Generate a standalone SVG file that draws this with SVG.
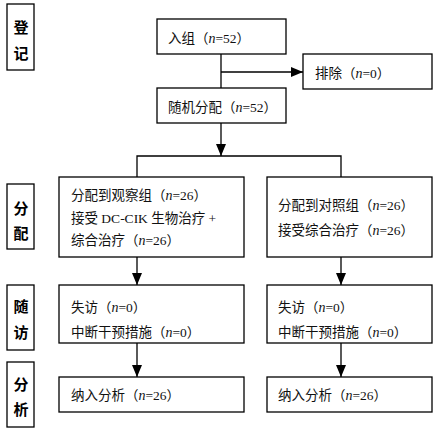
<svg xmlns="http://www.w3.org/2000/svg" width="441" height="432" viewBox="0 0 441 432">
<style>
.box{fill:#fff;stroke:#000;stroke-width:1.3}
.t{font-family:"Liberation Serif","Noto Sans CJK SC",serif;font-size:13.5px;fill:#111;dominant-baseline:central}
.lab{font-family:"Noto Sans CJK SC",sans-serif;font-size:15px;font-weight:bold;fill:#000;text-anchor:middle;dominant-baseline:central}
.ln{fill:none;stroke:#000;stroke-width:1.3}
.n{font-style:italic;font-size:14px}
</style>
<defs>
<marker id="ah" viewBox="0 0 12 10" refX="12" refY="5" markerWidth="12" markerHeight="10" markerUnits="userSpaceOnUse" orient="auto">
<path d="M0,0L12,5L0,10z" fill="#000"/>
</marker>
</defs>
<rect width="441" height="432" fill="#fff"/>
<g id="stage-labels">
<g id="lab-reg"><rect class="box" x="7" y="4" width="27" height="66"/><text class="lab" x="21" y="26">登</text><text class="lab" x="21" y="52">记</text></g>
<g id="lab-alloc"><rect class="box" x="7" y="184" width="27" height="65"/><text class="lab" x="21" y="207">分</text><text class="lab" x="21" y="232">配</text></g>
<g id="lab-follow"><rect class="box" x="7" y="285" width="27" height="65"/><text class="lab" x="21" y="305">随</text><text class="lab" x="21" y="331">访</text></g>
<g id="lab-anal"><rect class="box" x="7" y="362" width="27" height="65"/><text class="lab" x="21" y="383">分</text><text class="lab" x="21" y="408">析</text></g>
</g>
<g id="connectors">
<path class="ln" d="M221,54V88"/>
<path class="ln" d="M221,72H303" marker-end="url(#ah)"/>
<path class="ln" d="M221,123V156" marker-end="url(#ah)"/>
<path class="ln" d="M137,177V156H341V177"/>
<path class="ln" d="M137,257V285" marker-end="url(#ah)"/>
<path class="ln" d="M341,257V285" marker-end="url(#ah)"/>
<path class="ln" d="M137,343V377" marker-end="url(#ah)"/>
<path class="ln" d="M341,343V377" marker-end="url(#ah)"/>
</g>
<g id="enroll"><rect class="box" x="157" y="19" width="129" height="35"/><text class="t" x="168" y="38">入组（<tspan class="n">n</tspan>=52）</text></g>
<g id="exclude"><rect class="box" x="303" y="54" width="129" height="35"/><text class="t" x="315" y="73">排除（<tspan class="n">n</tspan>=0）</text></g>
<g id="random"><rect class="box" x="157" y="88" width="129" height="35"/><text class="t" x="168" y="107">随机分配（<tspan class="n">n</tspan>=52）</text></g>
<g id="obs"><rect class="box" x="59" y="177" width="185" height="80"/>
<text class="t" x="71" y="195">分配到观察组（<tspan class="n">n</tspan>=26）</text>
<text class="t" x="71" y="218">接受 DC-CIK 生物治疗 +</text>
<text class="t" x="71" y="240">综合治疗（<tspan class="n">n</tspan>=26）</text></g>
<g id="ctrl"><rect class="box" x="267" y="177" width="165" height="80"/>
<text class="t" x="278" y="205">分配到对照组（<tspan class="n">n</tspan>=26）</text>
<text class="t" x="278" y="230">接受综合治疗（<tspan class="n">n</tspan>=26）</text></g>
<g id="obs-follow"><rect class="box" x="59" y="285" width="185" height="58"/>
<text class="t" x="71" y="307">失访（<tspan class="n">n</tspan>=0）</text>
<text class="t" x="71" y="332">中断干预措施（<tspan class="n">n</tspan>=0）</text></g>
<g id="ctrl-follow"><rect class="box" x="267" y="285" width="165" height="58"/>
<text class="t" x="278" y="307">失访（<tspan class="n">n</tspan>=0）</text>
<text class="t" x="278" y="332">中断干预措施（<tspan class="n">n</tspan>=0）</text></g>
<g id="obs-anal"><rect class="box" x="59" y="377" width="185" height="35"/><text class="t" x="71" y="395">纳入分析（<tspan class="n">n</tspan>=26）</text></g>
<g id="ctrl-anal"><rect class="box" x="267" y="377" width="165" height="35"/><text class="t" x="278" y="395">纳入分析（<tspan class="n">n</tspan>=26）</text></g>
</svg>
